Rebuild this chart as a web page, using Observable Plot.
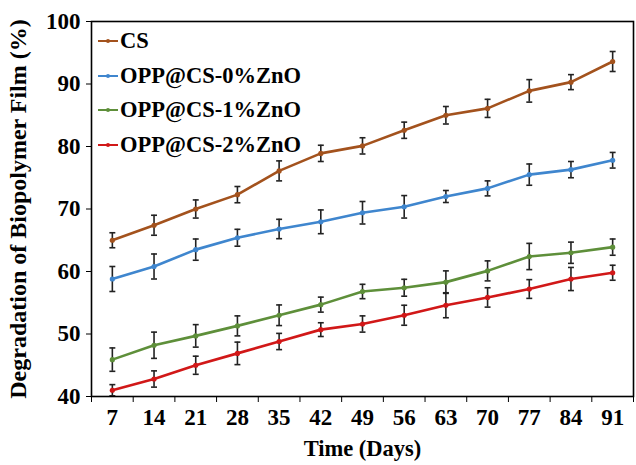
<!DOCTYPE html>
<html>
<head>
<meta charset="utf-8">
<script src="https://cdn.jsdelivr.net/npm/d3@7"></script>
<script src="https://cdn.jsdelivr.net/npm/@observablehq/plot@0.6"></script>
<style>
  html, body { margin: 0; padding: 0; background: white; }
  #wrap { position: relative; width: 636px; height: 465px; }
  #legend { position: absolute; left: 98px; top: 24px; font-family: "Liberation Serif", "Times New Roman", serif; font-weight: bold; font-size: 22.5px; color: black; }
  .row { height: 34.5px; display: flex; align-items: center; white-space: nowrap; }
  .row svg { margin-right: 1px; }
</style>
</head>
<body>
<div id="wrap"><div id="legend"></div></div>
<script>
const days = [7, 14, 21, 28, 35, 42, 49, 56, 63, 70, 77, 84, 91];
const seriesNames = ["CS", "OPP@CS-0%ZnO", "OPP@CS-1%ZnO", "OPP@CS-2%ZnO"];
const seriesColors = ["#A3521D", "#3F86CE", "#5E8F3A", "#D11818"];

const csValues   = [65.0, 67.4, 70.0, 72.3, 76.1, 78.9, 80.1, 82.6, 85.0, 86.1, 88.9, 90.3, 93.6];
const csErrors   = [1.2, 1.6, 1.45, 1.3, 1.6, 1.3, 1.3, 1.3, 1.4, 1.45, 1.8, 1.2, 1.6];
const opp0Values = [58.8, 60.8, 63.5, 65.4, 66.8, 67.95, 69.4, 70.35, 72.0, 73.3, 75.5, 76.3, 77.8];
const opp0Errors = [2.0, 2.0, 1.7, 1.35, 1.55, 1.9, 1.8, 1.8, 0.96, 1.2, 1.7, 1.3, 1.25];
const opp1Values = [45.9, 48.2, 49.7, 51.3, 53.0, 54.7, 56.8, 57.4, 58.3, 60.1, 62.4, 63.0, 63.9];
const opp1Errors = [1.87, 2.1, 1.8, 1.6, 1.65, 1.2, 1.15, 1.35, 1.8, 1.6, 2.1, 1.7, 1.3];
const opp2Values = [41.0, 42.8, 45.0, 46.9, 48.8, 50.7, 51.6, 53.0, 54.6, 55.85, 57.2, 58.8, 59.8];
const opp2Errors = [0.9, 1.3, 1.45, 1.8, 1.3, 1.1, 1.3, 1.6, 2.0, 1.55, 1.5, 1.85, 1.2];
const yTicks = [40, 50, 60, 70, 80, 90, 100];

const allValues = [csValues, opp0Values, opp1Values, opp2Values];
const allErrors = [csErrors, opp0Errors, opp1Errors, opp2Errors];

const data = [];
seriesNames.forEach((name, s) => {
  days.forEach((d, i) => {
    data.push({series: name, day: d, value: allValues[s][i], err: allErrors[s][i]});
  });
});

const step = days[1] - days[0];
const boundaries = [days[0] - step / 2, ...days.map(d => d + step / 2)];
const capHalf = 0.5;

const font = '"Liberation Serif", "Times New Roman", serif';

const chart = Plot.plot({
  width: 636,
  height: 465,
  marginLeft: 91,
  marginRight: 3,
  marginTop: 21,
  marginBottom: 69,
  style: {fontFamily: font, fontWeight: "bold", fontSize: "23px", background: "white", color: "black"},
  x: {domain: [boundaries[0], boundaries[boundaries.length - 1]]},
  y: {domain: [40, 100]},
  color: {domain: seriesNames, range: seriesColors},
  marks: [
    Plot.ruleX(data, {x: "day", y1: d => d.value - d.err, y2: d => d.value + d.err, stroke: "#222", strokeWidth: 1.6}),
    Plot.link(data, {x1: d => d.day - capHalf, x2: d => d.day + capHalf, y1: d => d.value - d.err, y2: d => d.value - d.err, stroke: "#222", strokeWidth: 1.6}),
    Plot.link(data, {x1: d => d.day - capHalf, x2: d => d.day + capHalf, y1: d => d.value + d.err, y2: d => d.value + d.err, stroke: "#222", strokeWidth: 1.6}),
    Plot.line(data, {x: "day", y: "value", z: "series", stroke: "series", strokeWidth: 2.6}),
    Plot.dot(data, {x: "day", y: "value", fill: "series", r: 2.6}),
    Plot.frame({stroke: "black", strokeWidth: 1.6}),
    Plot.axisY({ticks: yTicks, tickSize: 5, tickPadding: 6, fontSize: 23, fontWeight: "bold", label: null}),
    Plot.axisY({ticks: [], tickSize: 0, fontSize: 24, fontWeight: "bold",
      label: "Degradation of Biopolymer Film (%)", labelAnchor: "center", labelOffset: 83, labelArrow: "none"}),
    Plot.axisX({ticks: boundaries, tickSize: 6, tickFormat: () => "", label: null}),
    Plot.axisX({ticks: days, tickSize: 0, tickPadding: 12, fontSize: 23, fontWeight: "bold", label: null}),
    Plot.axisX({ticks: [], tickSize: 0, fontSize: 22.5, fontWeight: "bold",
      label: "Time (Days)", labelAnchor: "center", labelOffset: 59, labelArrow: "none"})
  ]
});

chart.querySelectorAll("text").forEach(t => { t.style.fontWeight = "bold"; });
document.getElementById("wrap").prepend(chart);

const legend = document.getElementById("legend");
seriesNames.forEach((name, s) => {
  const row = document.createElement("div");
  row.className = "row";
  row.innerHTML = `<svg width="21" height="10"><line x1="0" y1="5" x2="20" y2="5" stroke="${seriesColors[s]}" stroke-width="2"/><circle cx="10" cy="5" r="2" fill="${seriesColors[s]}"/></svg><span>${name}</span>`;
  legend.appendChild(row);
});
</script>
</body>
</html>
